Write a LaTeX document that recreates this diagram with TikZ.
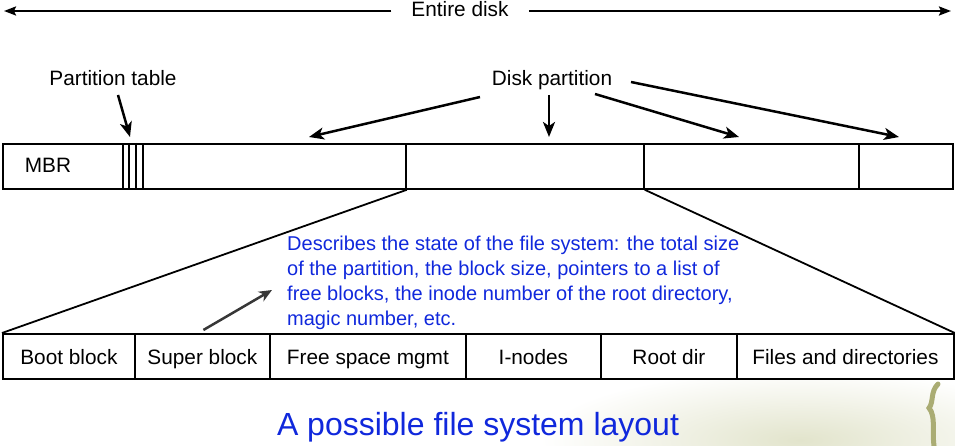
\documentclass[tikz,border=0pt]{standalone}
\usepackage{fontspec}
\setmainfont{Liberation Sans}
\usetikzlibrary{arrows.meta,calc}
\definecolor{txtblue}{RGB}{16,40,220}
\definecolor{wmark}{RGB}{226,228,204}
\definecolor{wmarkdark}{RGB}{170,172,115}
\definecolor{arrgray}{RGB}{55,55,55}
\begin{document}
\begin{tikzpicture}[x=1pt,y=-1pt,
  seg/.style={draw, line width=1.8pt, minimum height=45pt, inner sep=0pt, anchor=north west, text height=16.5pt, text depth=0pt, font=\fontsize{20.8}{24}\selectfont},
  lbl/.style={font=\fontsize{20.8}{24}\selectfont, inner sep=0pt},
  arr/.style={line width=2.5pt, -{Stealth[length=15pt,width=12pt,inset=4pt]}},
  arrg/.style={line width=2.5pt, arrgray, -{Stealth[length=13pt,width=11pt,inset=4pt]}},
  dblarr/.style={line width=2.2pt, -{Stealth[length=12pt,width=9pt,inset=2pt]}},
  expline/.style={line width=1.8pt},
]
\useasboundingbox (0,0) rectangle (955,446);
% faint watermark
\begin{scope}
\clip (0,380) rectangle (955,446);
\shade[inner color=wmark, outer color=white] (800,440) ellipse [x radius=260pt, y radius=70pt];
\end{scope}
\draw[wmarkdark, line width=5pt, line cap=round] (938,384) .. controls (930,392) and (934,402) .. (929,408) .. controls (936,416) and (932,432) .. (934,446);

% top arrow
\node[lbl, inner xsep=20pt, anchor=base] (ent) at (460,17) {Entire disk};
\coordinate (dl) at (4,11);
\coordinate (dr) at (951,11);
\draw[dblarr] (ent.west |- dl) -- (dl);
\draw[dblarr] (ent.east |- dr) -- (dr);

% labels
\node[lbl, anchor=base] (ptl) at (113,86) {Partition table};
\node[lbl, anchor=base] (dpl) at (552,86) {Disk partition};

% disk bar
\node[seg, minimum width=120pt] (mbr) at (2,143) {};
\node[lbl, anchor=base] (mbrt) at (48,173) {MBR};
\node[seg, minimum width=20pt] (ptab) at (122,143) {};
\draw[line width=1.5pt] ($(ptab.north west)+(7,0)$) -- ($(ptab.south west)+(7,0)$);
\draw[line width=1.5pt] ($(ptab.north west)+(14,0)$) -- ($(ptab.south west)+(14,0)$);
\node[seg, minimum width=263pt] (p1) at (142,143) {};
\node[seg, minimum width=238pt] (p2) at (405,143) {};
\node[seg, minimum width=215pt] (p3) at (643,143) {};
\node[seg, minimum width=94pt] (p4) at (858,143) {};

% arrows
\coordinate (ps) at (118,95);
\coordinate (pt) at (130,137);
\draw[arr] (ps) -- (pt);
\coordinate (s1) at (480,97);
\coordinate (t1) at (309,137);
\coordinate (s2) at (549,95);
\coordinate (t2) at (549,137);
\coordinate (s3) at (595,94);
\coordinate (t3) at (739,137);
\coordinate (s4) at (631,82);
\coordinate (t4) at (899,137);
\draw[arr] (s1) -- (t1);
\draw[arr] (s2) -- (t2);
\draw[arr] (s3) -- (t3);
\draw[arr] (s4) -- (t4);

% bottom bar
\node[seg, minimum width=132pt] (boot) at (2,333) {Boot block};
\node[seg, minimum width=135pt] (super) at (134,333) {Super block};
\node[seg, minimum width=196pt] (free) at (269,333) {Free space mgmt};
\node[seg, minimum width=135pt] (inodes) at (465,333) {I-nodes};
\node[seg, minimum width=136pt] (root) at (600,333) {Root dir};
\node[seg, minimum width=217pt] (files) at (736,333) {Files and directories};

% expansion lines
\draw[expline] (p1.south east) -- (boot.north west);
\draw[expline] (p2.south east) -- (files.north east);

% super block description
\node[anchor=north west, align=left, inner sep=0pt, text=txtblue, font=\fontsize{20}{24.8}\selectfont] (desc) at (287,236)
  {Describes the state of the file system: the total size\\
   of the partition, the block size, pointers to a list of\\
   free blocks, the inode number of the root directory,\\
   magic number, etc.};
\coordinate (sbt) at (272,290);
\draw[arrg] ($(super.north)+(1,-3)$) -- (sbt);

% title
\node[anchor=base, inner sep=0pt, text=txtblue, font=\fontsize{32}{36}\selectfont] (title) at (478,435) {A possible file system layout};
\end{tikzpicture}
\end{document}
